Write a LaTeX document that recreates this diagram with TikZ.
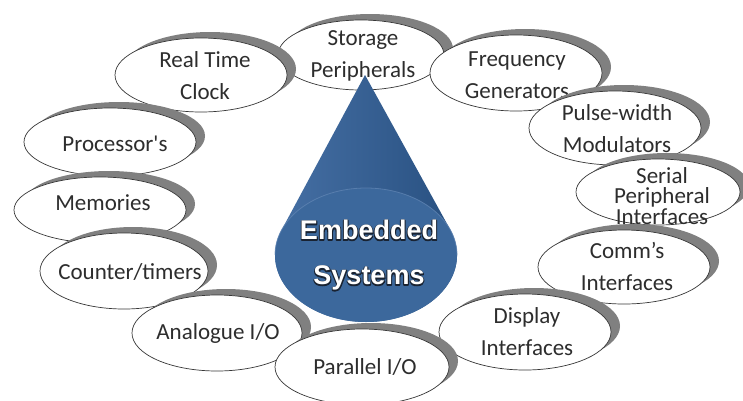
\documentclass[tikz,border=0pt]{standalone}
\usepackage{fontspec}
\setmainfont{Carlito}
\newfontfamily\conefont{Liberation Sans}

\definecolor{shadegray}{RGB}{128,128,128}
\definecolor{edgegray}{RGB}{55,55,55}
\definecolor{labelgray}{RGB}{45,45,45}
\definecolor{coneL}{RGB}{70,112,165}
\definecolor{coneM}{RGB}{52,92,142}
\definecolor{coneR}{RGB}{38,78,126}
\definecolor{conebase}{RGB}{60,104,156}
\definecolor{conerim}{RGB}{100,136,182}
\definecolor{coneink}{RGB}{25,35,50}

% white letters on a dark, stroked underlay of the same word
\newcommand\outlined[1]{%
  \rlap{\color{coneink}\special{pdf:literal direct 2.0 w 1 j 2 Tr}#1%
    \special{pdf:literal direct 0 Tr}}#1}

\tikzset{
  bubbleshade/.style={fill=shadegray},
  bubbleedge/.style={draw=edgegray, fill=white, line width=0.7pt},
  bubbletext/.style={inner sep=0pt, align=center, text=labelgray,
    font=\fontsize{23}{32}\selectfont},
  conetext/.style={inner sep=0pt, align=center, text=white,
    font=\conefont\bfseries\fontsize{27}{45}\selectfont},
}

% #1 extra text options, #2 name, #3/#4 ellipse centre, #5/#6 radii,
% #7/#8 text position, #9 text
\newcommand\bubblenode[9][]{%
  \fill[bubbleshade] (#3+9,#4-6) ellipse [x radius=#5pt, y radius=#6pt];
  \path[bubbleedge] (#3,#4) ellipse [x radius=#5pt, y radius=#6pt];
  \node[bubbletext,#1] (#2) at (#7,#8) {#9};
}

\begin{document}
\begin{tikzpicture}[x=1pt,y=-1pt]
  \useasboundingbox (0,0) rectangle (743,400);
  \fill[white] (0,0) rectangle (743,400);

  % ring of peripheral bubbles, right side first, then left side
  \bubblenode{stor}{361}{55}{83}{35}{363}{56}{Storage\\Peripherals}
  \bubblenode{freq}{516}{73}{86}{38}{517}{75.5}{Frequency\\Generators}
  \bubblenode{pwm}{615}{128}{86}{37}{617}{128.5}{Pulse-width\\Modulators}
  \bubblenode[font=\fontsize{23}{20.5}\selectfont]{spi}{658}{192}{82}{33}{662}{196}{Serial\\Peripheral\\Interfaces}
  \bubblenode{comm}{624}{267}{86}{37}{627}{266}{Comm’s\\Interfaces}
  \bubblenode{disp}{525}{332}{86}{38}{527}{331.5}{Display\\Interfaces}
  \bubblenode{rtc}{201}{75}{86}{37}{205}{76}{Real Time\\Clock}
  \bubblenode{proc}{110}{142}{86}{34}{115}{144}{Processor\textquotesingle s}
  \bubblenode{mem}{100}{210}{86}{33}{103}{203}{Memories}
  \bubblenode{ctr}{124}{271}{84}{38}{130}{272}{Counter/timers}
  \bubblenode{aio}{217}{333}{85}{38}{218}{333}{Analogue I/O}
  \bubblenode{pio}{362}{367}{87}{38}{365}{367}{Parallel I/O}

  % central cone: side faces, then the round base
  \shade[left color=coneL, middle color=coneM, right color=coneR]
    (450.5,230.1) arc[start angle=21.8, end angle=-201.8, x radius=91pt, y radius=67pt]
    -- (365,75) -- cycle;
  \fill[conebase] (366,255) ellipse [x radius=91pt, y radius=67pt];
  \draw[conerim, line width=0.8pt, opacity=0.7]
    (457,255) arc[start angle=0, end angle=180, x radius=91pt, y radius=67pt];

  \node[conetext] (es) at (369,255.5)
    {\outlined{Embedded}\\\outlined{Systems}};
\end{tikzpicture}
\end{document}
